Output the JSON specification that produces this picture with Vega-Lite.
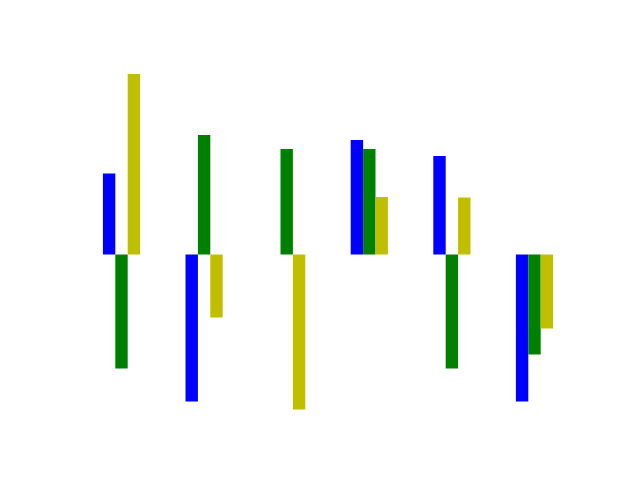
{
  "$schema": "https://vega.github.io/schema/vega-lite/v6.json",
  "autosize": "none",
  "width": 496,
  "height": 370,
  "padding": {"left": 80, "top": 58, "right": 64, "bottom": 52},
  "background": "white",
  "config": {"view": {"stroke": null}},
  "data": {
    "values": [
      {"group": "G1", "series": "s1", "value": 81},
      {"group": "G1", "series": "s2", "value": -114},
      {"group": "G1", "series": "s3", "value": 180.5},
      {"group": "G2", "series": "s1", "value": -147},
      {"group": "G2", "series": "s2", "value": 119.5},
      {"group": "G2", "series": "s3", "value": -63},
      {"group": "G3", "series": "s1", "value": 0},
      {"group": "G3", "series": "s2", "value": 105.5},
      {"group": "G3", "series": "s3", "value": -155},
      {"group": "G4", "series": "s1", "value": 114.5},
      {"group": "G4", "series": "s2", "value": 105.5},
      {"group": "G4", "series": "s3", "value": 57.5},
      {"group": "G5", "series": "s1", "value": 98.5},
      {"group": "G5", "series": "s2", "value": -114},
      {"group": "G5", "series": "s3", "value": 57},
      {"group": "G6", "series": "s1", "value": -147},
      {"group": "G6", "series": "s2", "value": -100},
      {"group": "G6", "series": "s3", "value": -74}
    ]
  },
  "mark": {"type": "bar", "strokeWidth": 0},
  "encoding": {
    "x": {
      "field": "group",
      "type": "nominal",
      "axis": null,
      "scale": {"paddingInner": 0.55, "paddingOuter": 0.2775}
    },
    "xOffset": {"field": "series", "type": "nominal", "scale": {"paddingInner": 0, "paddingOuter": 0}},
    "y": {
      "field": "value",
      "type": "quantitative",
      "axis": null,
      "scale": {"domain": [-173.5, 196.5], "nice": false, "zero": false}
    },
    "color": {
      "field": "series",
      "type": "nominal",
      "legend": null,
      "scale": {"domain": ["s1", "s2", "s3"], "range": ["#0000ff", "#008000", "#bfbf00"]}
    }
  }
}
